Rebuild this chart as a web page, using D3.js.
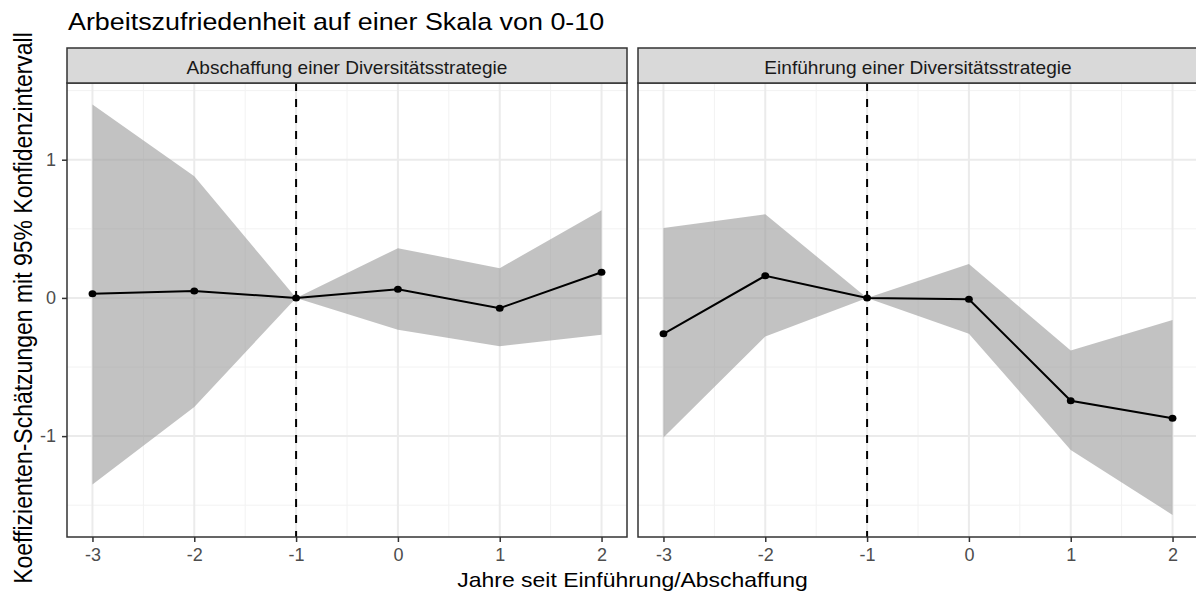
<!DOCTYPE html>
<html><head><meta charset="utf-8">
<script src="https://cdn.jsdelivr.net/npm/d3@7"></script>
<style>body{margin:0;background:#fff}svg{display:block}text{font-family:"Liberation Sans",Arial,sans-serif}</style>
</head><body><svg id="c" width="1196" height="597"></svg>
<script>
const years = [-3, -2, -1, 0, 1, 2];
const panels = ["Abschaffung einer Diversitätsstrategie", "Einführung einer Diversitätsstrategie"];
const estAbschaffung = [0.03, 0.05, 0, 0.063, -0.074, 0.186];
const lowAbschaffung = [-1.35, -0.79, 0, -0.23, -0.35, -0.267];
const highAbschaffung = [1.40, 0.88, 0, 0.36, 0.215, 0.635];
const estEinfuehrung = [-0.26, 0.16, 0, -0.01, -0.744, -0.87];
const lowEinfuehrung = [-1.01, -0.28, 0, -0.26, -1.10, -1.57];
const highEinfuehrung = [0.505, 0.605, 0, 0.245, -0.38, -0.16];
const xTicks = [-3, -2, -1, 0, 1, 2];
const yTicks = [-1, 0, 1];
const title = "Arbeitszufriedenheit auf einer Skala von 0-10";
const xTitle = "Jahre seit Einführung/Abschaffung";
const yTitle = "Koeffizienten-Schätzungen mit 95% Konfidenzintervall";

const series = [
  {name: panels[0], est: estAbschaffung, lo: lowAbschaffung, hi: highAbschaffung},
  {name: panels[1], est: estEinfuehrung, lo: lowEinfuehrung, hi: highEinfuehrung}
];

const svg = d3.select("#c");
const panelW = 560, panelTop = 83, panelBot = 537, stripTop = 48;
const panelLefts = [67, 638];
const y = d3.scaleLinear().domain([-1.73, 1.555]).range([panelBot, panelTop]);
const grid1 = "#ebebeb", dark = "#333333";
const fmt = d => d < 0 ? "-" + Math.abs(d) : String(d);

function stext(x, yy, size, sx, str, anchor, fill) {
  return svg.append("text").attr("transform", `translate(${x},${yy}) scale(${sx},1)`)
    .attr("font-size", size).attr("text-anchor", anchor || "start").attr("fill", fill || "#000").text(str);
}

stext(68, 30, 24, 1.12, title);

series.forEach((s, i) => {
  const L = panelLefts[i];
  const x = d3.scaleLinear().domain([-3.25, 2.25]).range([L, L + panelW]);
  const g = svg.append("g");
  [-2.5, -1.5, -0.5, 0.5, 1.5].forEach(v => g.append("line").attr("x1", x(v)).attr("x2", x(v)).attr("y1", panelTop).attr("y2", panelBot).attr("stroke", "#f2f2f2").attr("stroke-width", 1));
  [-1.5, -0.5, 0.5, 1.5].forEach(v => g.append("line").attr("x1", L).attr("x2", L + panelW).attr("y1", y(v)).attr("y2", y(v)).attr("stroke", "#f2f2f2").attr("stroke-width", 1));
  xTicks.forEach(v => g.append("line").attr("x1", x(v)).attr("x2", x(v)).attr("y1", panelTop).attr("y2", panelBot).attr("stroke", grid1).attr("stroke-width", 2));
  yTicks.forEach(v => g.append("line").attr("x1", L).attr("x2", L + panelW).attr("y1", y(v)).attr("y2", y(v)).attr("stroke", grid1).attr("stroke-width", 2));
  const area = d3.area().x((d, j) => x(years[j])).y0((d, j) => y(s.lo[j])).y1((d, j) => y(s.hi[j]));
  g.append("path").datum(years).attr("d", area).attr("fill", "#999999").attr("fill-opacity", 0.6);
  g.append("line").attr("x1", x(-1)).attr("x2", x(-1)).attr("y1", panelTop).attr("y2", panelBot).attr("stroke", "#000").attr("stroke-width", 2).attr("stroke-dasharray", "8,8");
  const line = d3.line().x((d, j) => x(years[j])).y((d, j) => y(s.est[j]));
  g.append("path").datum(years).attr("d", line).attr("fill", "none").attr("stroke", "#000").attr("stroke-width", 2);
  g.selectAll("ellipse").data(years).join("ellipse").attr("cx", d => x(d)).attr("cy", (d, j) => y(s.est[j])).attr("rx", 3.9).attr("ry", 3.5).attr("fill", "#000");
  g.append("rect").attr("x", L).attr("y", panelTop).attr("width", panelW).attr("height", panelBot - panelTop).attr("fill", "none").attr("stroke", dark).attr("stroke-width", 1.5);
  g.append("rect").attr("x", L).attr("y", stripTop).attr("width", panelW).attr("height", panelTop - stripTop).attr("fill", "#d9d9d9").attr("stroke", dark).attr("stroke-width", 1.5);
  stext(L + panelW / 2, 74, 17.5, 1.09, s.name, "middle", "#1a1a1a");
  const xa = svg.append("g").attr("transform", `translate(0,${panelBot})`).call(d3.axisBottom(x).tickValues(xTicks).tickFormat(fmt).tickSize(5).tickPadding(6));
  xa.select(".domain").remove();
  xa.selectAll("line").attr("stroke", dark).attr("stroke-width", 1.5);
  xa.selectAll("text").attr("font-size", 18).attr("fill", "#4d4d4d").attr("font-family", "Liberation Sans, Arial, sans-serif");
  if (i === 0) {
    const ya = svg.append("g").attr("transform", `translate(${L},0)`).call(d3.axisLeft(y).tickValues(yTicks).tickFormat(fmt).tickSize(5).tickPadding(6));
    ya.select(".domain").remove();
    ya.selectAll("line").attr("stroke", dark).attr("stroke-width", 1.5);
    ya.selectAll("text").attr("font-size", 18).attr("fill", "#4d4d4d").attr("font-family", "Liberation Sans, Arial, sans-serif");
  }
});

stext((67 + 1198) / 2, 587, 20.5, 1.12, xTitle, "middle");
svg.append("text").attr("transform", `translate(32,308) scale(1.12,1) rotate(-90)`).attr("text-anchor", "middle").attr("font-size", 23).attr("fill", "#000").text(yTitle);
</script></body></html>
